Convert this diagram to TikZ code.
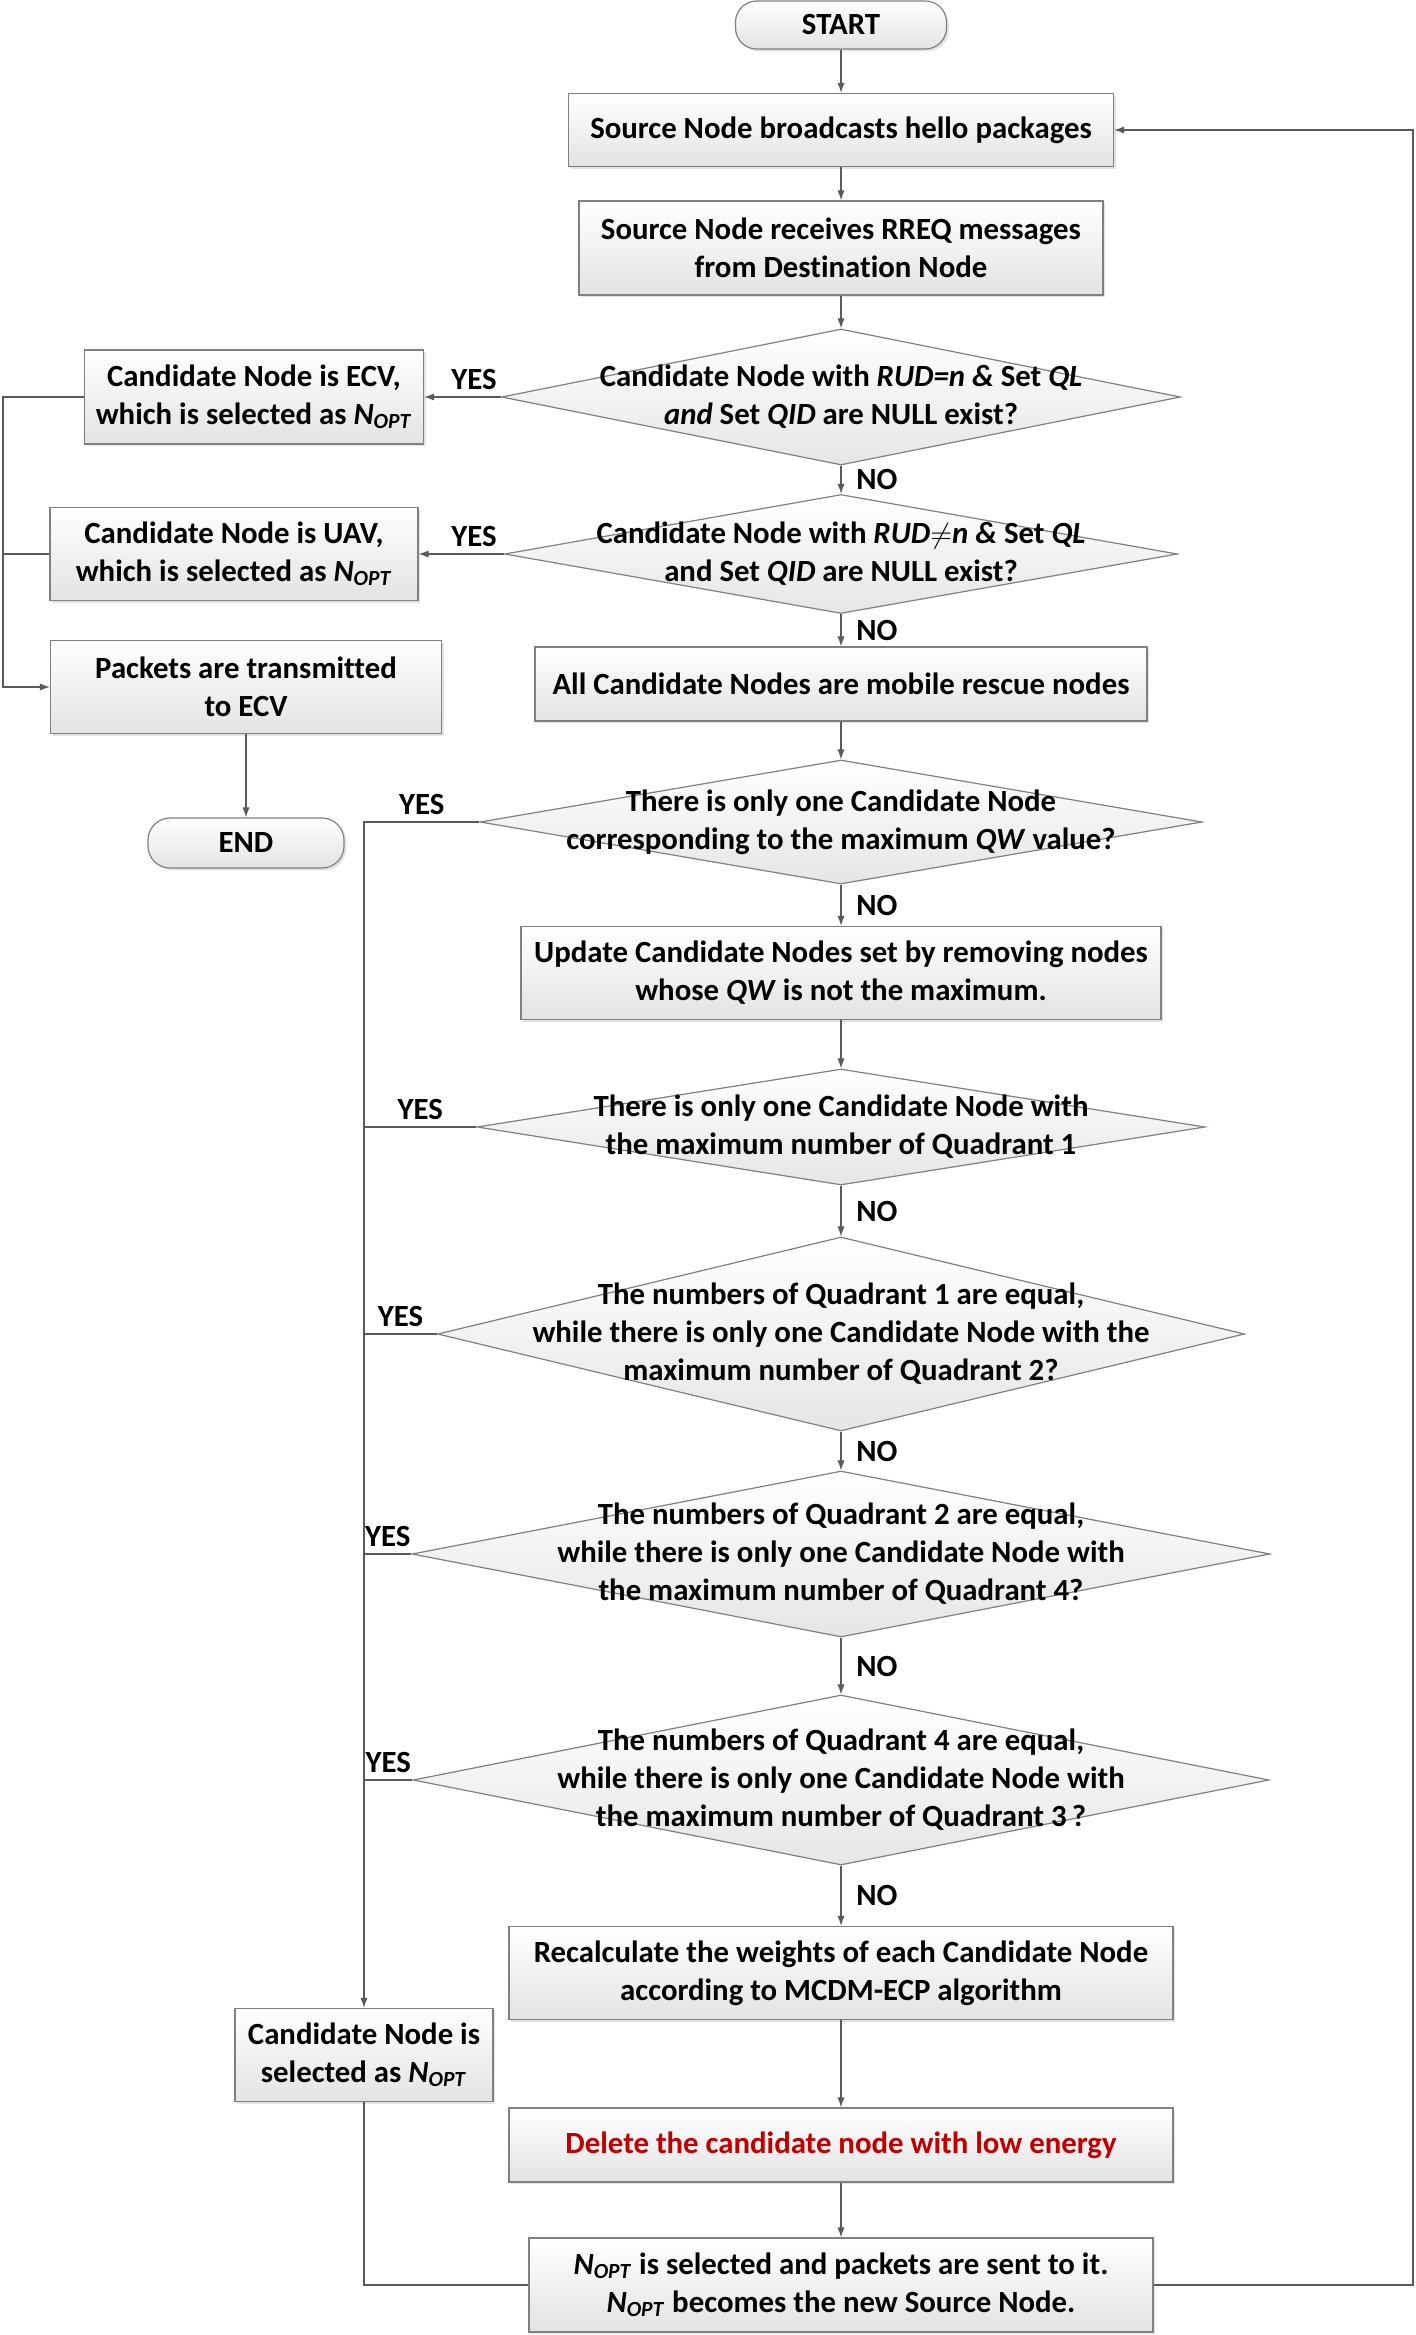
\documentclass[tikz,border=0pt]{standalone}
\usepackage{fontspec}
\setmainfont{Carlito}[Ligatures=NoCommon]
\usetikzlibrary{shapes.geometric,shadows,arrows.meta}

\definecolor{edgegray}{HTML}{808080}
\definecolor{linegray}{HTML}{5A5A5A}
\definecolor{delred}{HTML}{C00000}
\newcommand{\Nopt}{\textit{N}\textsubscript{\textit{OPT}}}

\begin{document}
\begin{tikzpicture}[x=0.5pt, y=-0.5pt,
    every node/.style={font=\fontsize{15.4}{19}\selectfont\bfseries, align=center},
    procbox/.style 2 args={draw=edgegray, line width=0.6pt, top color=white, bottom color=black!11,
        minimum width=#1*0.5pt, minimum height=#2*0.5pt, inner sep=0pt,
        drop shadow={shadow xshift=1.2pt, shadow yshift=-1.2pt, fill=black!22}},
    termbox/.style 2 args={procbox={#1}{#2}, rounded corners=#2*0.22pt},
    decision/.style 2 args={diamond, draw=edgegray, line width=0.6pt, top color=white, bottom color=black!10,
        minimum width=#1*0.5pt, minimum height=#2*0.5pt, inner sep=0pt},
    line/.style={draw=linegray, line width=0.6pt},
    arr/.style={line, -{Latex[length=5pt,width=3.6pt]}}]
\useasboundingbox (0,0) rectangle (1416,2335);

% main column
\node[termbox={211}{48}] (start) at (841,25) {START};
\node[procbox={545}{73}] (hello) at (841,130) {Source Node broadcasts hello packages};
\node[procbox={524}{94}] (rreq) at (841,248) {Source Node receives RREQ messages\\from Destination Node};
\node[decision={679}{136}] (d1) at (841,397) {};
\node (d1t) at (d1) {Candidate Node with \textit{RUD=n \&} Set \textit{QL}\\\textit{and} Set \textit{QID} are NULL exist?};
\node[decision={673}{119}] (d2) at (841,554) {};
\node (d2t) at (d2) {Candidate Node with \textit{RUD}$\neq$\textit{n \&} Set \textit{QL}\\and Set \textit{QID} are NULL exist?};
\node[procbox={612}{74}] (mob) at (841,684) {All Candidate Nodes are mobile rescue nodes};
\node[decision={722}{124}] (d3) at (841,822) {};
\node (d3t) at (d3) {There is only one Candidate Node\\corresponding to the maximum \textit{QW} value?};
\node[procbox={640}{93}] (upd) at (841,973) {Update Candidate Nodes set by removing nodes\\whose \textit{QW} is not the maximum.};
\node[decision={728}{116}] (d4) at (841,1127) {};
\node (d4t) at (d4) {There is only one Candidate Node with\\the maximum number of Quadrant 1};
\node[decision={807}{194}] (d5) at (841,1334) {};
\node (d5t) at (d5) {The numbers of Quadrant 1 are equal,\\while there is only one Candidate Node with the\\maximum number of Quadrant 2?};
\node[decision={858}{166}] (d6) at (841,1554) {};
\node (d6t) at (d6) {The numbers of Quadrant 2 are equal,\\while there is only one Candidate Node with\\the maximum number of Quadrant 4?};
\node[decision={856}{170}] (d7) at (841,1780) {};
\node (d7t) at (d7) {The numbers of Quadrant 4 are equal,\\while there is only one Candidate Node with\\the maximum number of Quadrant 3\,?};
\node[procbox={664}{93}] (recalc) at (841,1973) {Recalculate the weights of each Candidate Node\\according to MCDM-ECP algorithm};
\node[procbox={664}{74}, text=delred] (del) at (841,2145) {Delete the candidate node with low energy};
\node[procbox={624}{94}] (final) at (841,2285) {\Nopt{} is selected and packets are sent to it.\\\Nopt{} becomes the new Source Node.};

% left side
\node[procbox={339}{94}] (ecv) at (254,397) {Candidate Node is ECV,\\which is selected as \Nopt};
\node[procbox={368}{93}] (uav) at (234,554) {Candidate Node is UAV,\\which is selected as \Nopt};
\node[procbox={391}{93}] (pkt) at (246,687) {Packets are transmitted\\to ECV};
\node[termbox={196}{50}] (endn) at (246,843) {END};
\node[procbox={258}{93}] (sel) at (364,2055) {Candidate Node is\\selected as \Nopt};

\coordinate (lft) at (3,0);
\coordinate (rgt) at (1413,0);

% connectors
\draw[arr] (start) -- (hello);
\draw[arr] (hello) -- (rreq);
\draw[arr] (rreq) -- (d1);
\draw[arr] (recalc) -- (del);
\draw[arr] (del) -- (final);
\draw[arr] (upd) -- (d4);
\draw[arr] (mob) -- (d3);
\draw[arr] (pkt) -- (endn);
\foreach \a/\b in {d1/d2, d2/mob, d3/upd, d4/d5, d5/d6, d6/d7, d7/recalc}
    \draw[arr] (\a) -- node[right, xshift=4pt] {NO} (\b);
\draw[arr] (d1.west) -- node[above, pos=0.35] {YES} (ecv.east);
\draw[arr] (d2.west) -- node[above, pos=0.35] {YES} (uav.east);
\draw[arr] (ecv.west) -- (ecv.west -| lft) |- (pkt.west);
\draw[line] (uav.west) -- (uav.west -| lft);
\draw[arr] (d3.west) -- node[above] {YES} (d3.west -| sel.north) -- (sel.north);
\foreach \d in {d4,d5,d6,d7}
    \draw[line] (\d.west) -- node[above] {YES} (\d.west -| sel.north);
\draw[line] (sel.south) |- (final.west);
\draw[arr] (final.east) -- (final.east -| rgt) |- (hello.east);
\end{tikzpicture}
\end{document}
